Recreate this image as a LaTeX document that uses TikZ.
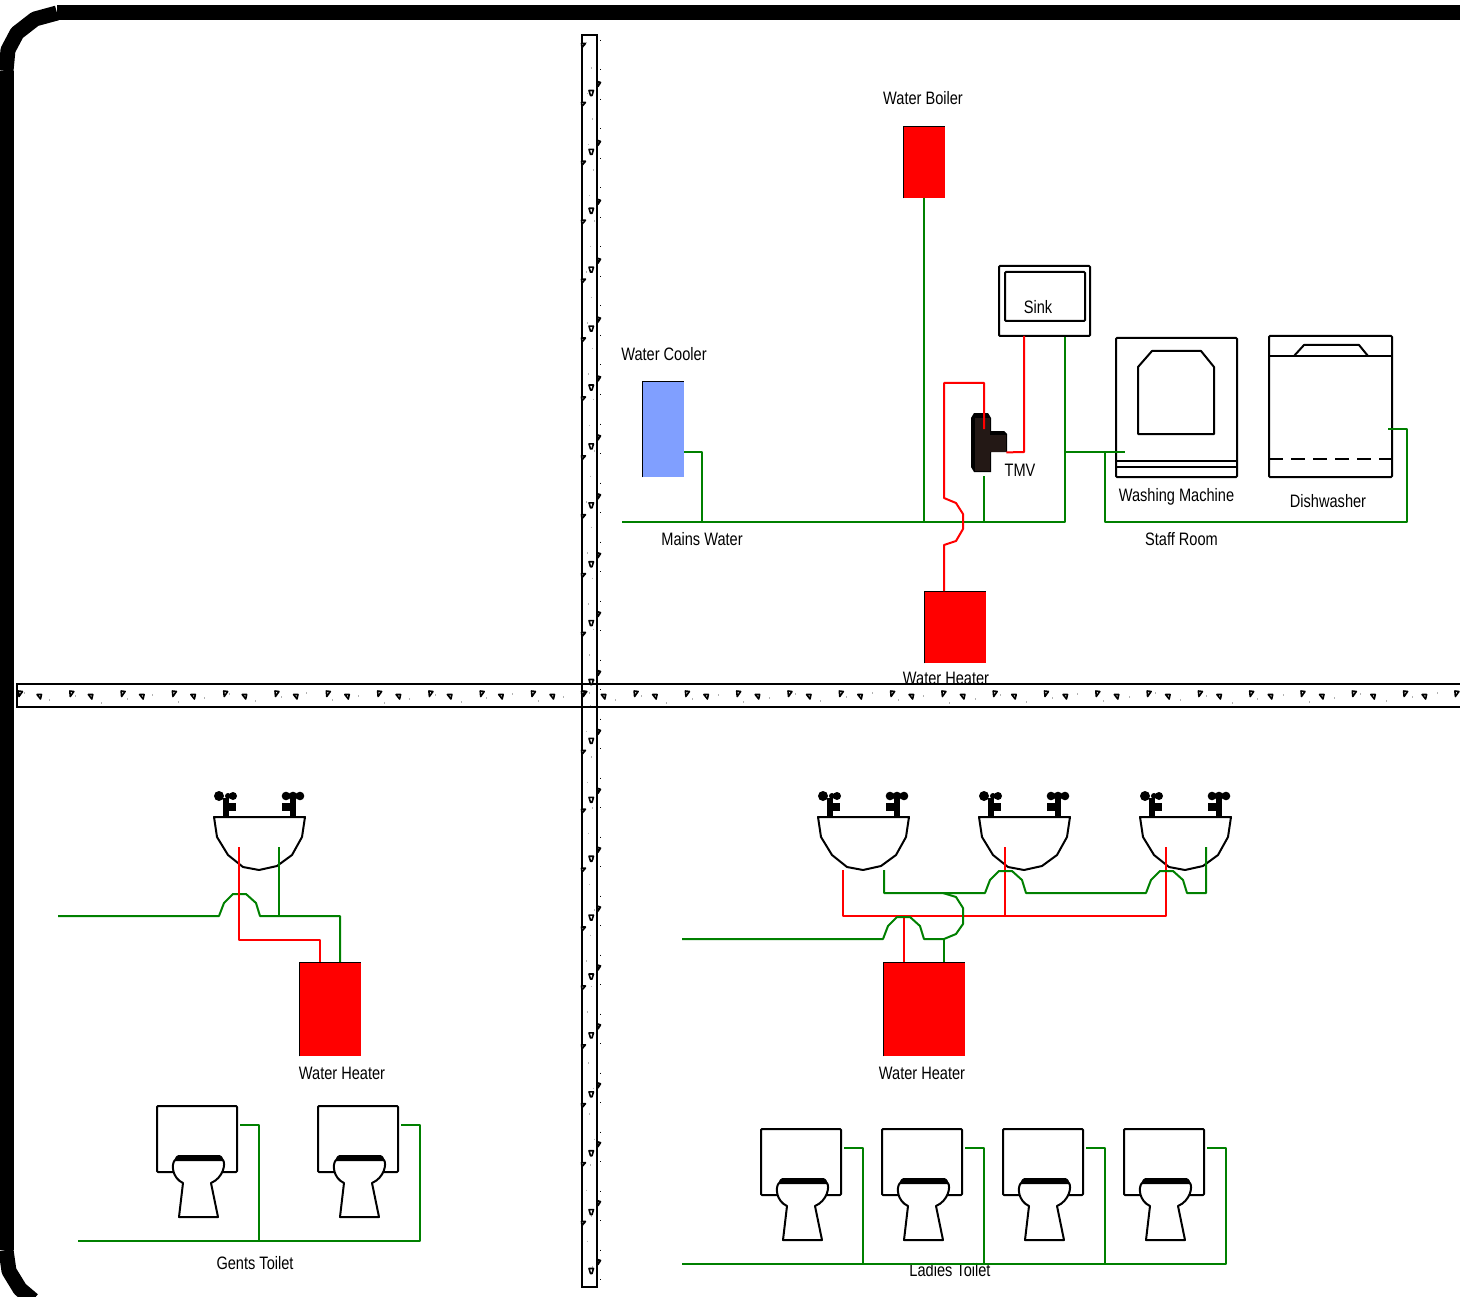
\documentclass[tikz,border=0pt]{standalone}
\usepackage{fontspec}
\setmainfont[FakeStretch=0.81]{Liberation Sans}
\usetikzlibrary{calc}

\definecolor{pipeGreen}{HTML}{008000}
\definecolor{pipeRed}{HTML}{FF0000}
\definecolor{coolerBlue}{HTML}{809FFF}
\definecolor{tmvDark}{HTML}{231815}

% one pipe hop over a crossing pipe
\newcommand{\pipehop}{-- ++(5,-13) -- ++(9,-9) -- ++(13,0) -- ++(10,9) -- ++(4,13)}

\begin{document}
\begin{tikzpicture}[
    x=1pt, y=-1pt,
    label/.style={font=\fontsize{18}{20}\selectfont, inner sep=0pt},
    cold/.style={draw=pipeGreen, line width=2pt, line join=round},
    hot/.style={draw=pipeRed, line width=2pt, line join=round},
    frameline/.style={line width=15pt, line join=round},
    wall/.style={draw=black, line width=2pt},
    speck/.style={draw=black!30, line width=0.6pt},
    wallmark/.style={fill=white, draw=black, line width=1.6pt, line join=round},
    fixture/.style={draw=black, line width=2pt, line join=round},
    tank/.style={rectangle, anchor=north west, inner sep=0pt, fill=pipeRed},
    box/.style={rectangle, draw=black, line width=2pt, rounded corners=1pt, anchor=north west, inner sep=0pt},
    basin/.pic={
        \draw[fixture, fill=white] (0,0) -- (3,20) -- (14,38) -- (29,50) -- (45,53) -- (63,49) -- (78,38) -- (88,20) -- (91,0) -- cycle;
        % taps
        \fill (9,-19) rectangle (15,0);
        \fill (14,-14) rectangle (22,-6);
        \fill (5,-21) circle (5pt) (14,-21) circle (3pt) (19,-21) circle (4pt);
        \fill (76,-19) rectangle (82,0);
        \fill (68,-14) rectangle (76,-6);
        \fill (72,-21) circle (4.3pt) (79,-21) circle (4.3pt) (86,-21) circle (4.3pt);
    },
    wc/.pic={
        \draw[fixture, rounded corners=1pt] (0,0) rectangle (80,66);
        \draw[fixture, fill=white] (18,54) .. controls (14,58) and (15,72) .. (26,77) -- (22,111) -- (61,111) -- (54,77) .. controls (66,72) and (69,58) .. (66,54) -- cycle;
        \fill[rounded corners=1.5pt] (17,54) -- (20,49) -- (64,49) -- (67,54) -- cycle;
        \coordinate (-out) at (83,19);
    }
]
\useasboundingbox (0,0) rectangle (1460,1297);

% outer frame
\draw[frameline] (1460,13) -- (57,13);
\draw[frameline] (57,13) -- (35,19) -- (17,33) -- (8,50) -- (6,71);
\draw[frameline] (6,71) -- (6,1250);
\draw[frameline] (6,1250) -- (9,1271) -- (20,1289) -- (33,1300);

% specks in the walls
\foreach \k in {0,...,55}
    \draw[speck] (24+\k*25.7,{692+mod(\k*7,11)}) -- ++(0,1.5);
\foreach \k in {0,...,48}
    \draw[speck] ({586+mod(\k*5,9)},42+\k*25.5) -- ++(0,1.5);
\foreach \k in {0,...,42}
    \draw[black, line width=0.8pt] (600.5,40+\k*29.5) -- ++(0,1);
\foreach \k in {0,...,55}
    \draw[black, line width=0.8pt] (30+\k*25.7,683) -- ++(1,0);

% horizontal wall
\draw[wall] (17,684) rectangle (1470,707);
\foreach \k in {0,...,28} {
    \draw[wallmark] (18.5+\k*51.3,691) -- (22.5+\k*51.3,691.5) -- (19+\k*51.3,696.5) -- cycle;
    \draw[wallmark] (37+\k*51.3,694.5) -- (41.5+\k*51.3,694.5) -- (40.5+\k*51.3,699) -- cycle;
}

% vertical wall
\draw[wall] (582,35) rectangle (597,1287);
\foreach \k in {0,...,20} {
    \draw[wallmark] (589,{90.5+\k*58.9}) -- (593.5,{90.5+\k*58.9}) -- (592,{95.5+\k*58.9}) -- (590.5,{95.5+\k*58.9}) -- cycle;
    \draw[wallmark] (597.5,{81.5+\k*58.9}) -- (600.5,{82.5+\k*58.9}) -- (598,{86.5+\k*58.9}) -- cycle;
    \draw[wallmark] (581.5,{43.5+\k*58.9}) -- (585.5,{43.5+\k*58.9}) -- (582,{47.5+\k*58.9}) -- cycle;
}

% labels
\node[label] (lblBoiler) at (923,98) {Water Boiler};
\node[label] (lblCooler) at (664,354) {Water Cooler};
\node[label] (lblTmv) at (1020,470) {TMV};
\node[label] (lblWasher) at (1176.5,496.5) {Washing Machine};
\node[label] (lblDish) at (1328,501) {Dishwasher};
\node[label] (lblMains) at (702,539) {Mains Water};
\node[label] (lblStaff) at (1181.5,539) {Staff Room};
\node[label] (lblHeaterA) at (946,678) {Water Heater};
\node[label] (lblHeaterB) at (342,1073) {Water Heater};
\node[label] (lblHeaterC) at (922,1073) {Water Heater};
\node[label] (lblGents) at (255,1263) {Gents Toilet};
\node[label] (lblLadies) at (950,1270) {Ladies Toilet};

% tanks
\node[tank, minimum width=42pt, minimum height=71pt] (boiler) at (903,127) {};
\node[tank, fill=coolerBlue, minimum width=42pt, minimum height=95pt] (cooler) at (642,382) {};
\node[tank, minimum width=62pt, minimum height=72pt] (heaterStaff) at (924,591) {};
\node[tank, minimum width=62pt, minimum height=94pt] (heaterGents) at (299,962) {};
\node[tank, minimum width=82pt, minimum height=94pt] (heaterLadies) at (883,962) {};
\foreach \t in {boiler,cooler,heaterStaff,heaterGents,heaterLadies}
    \draw[black, line width=1pt] (\t.south west) |- (\t.north east);

% sink
\node[box, minimum width=91pt, minimum height=70pt] (sink) at (998,265) {};
\node[box, minimum width=80pt, minimum height=49pt] (sinkInner) at (1004,271) {};
\node[label] (lblSink) at (1038,307) {Sink};

% washing machine
\node[box, minimum width=121pt, minimum height=139pt] (washer) at (1115,337) {};
\draw[fixture] (1116,461) -- (1237,461);
\draw[fixture] (1116,467) -- (1237,467);
\draw[fixture] (1138,367) -- (1152,351) -- (1201,351) -- (1214,367) -- (1214,434) -- (1138,434) -- cycle;

% dishwasher
\node[box, minimum width=123pt, minimum height=141pt] (dishwasher) at (1268,335) {};
\draw[fixture] (1269,356) -- (1392,356);
\draw[fixture] (1294,356) -- (1304,345) -- (1359,345) -- (1368,356);
\draw[fixture, dash pattern=on 14pt off 8pt] (1269,459) -- (1392,459);

% TMV
\fill[black] (971,418) -- (974,413) -- (988,413) -- (991,418) -- (991,431) -- (1004,431) -- (1007,434) -- (1007,452) -- (991,452) -- (991,472) -- (974,472) -- (971,467) -- cycle;
\node[rectangle, fill=tmvDark, anchor=north west, inner sep=0pt, minimum width=15pt, minimum height=53pt] (tmv) at (975,418) {};
\node[rectangle, fill=tmvDark, anchor=north west, inner sep=0pt, minimum width=16pt, minimum height=17pt] (tmvArm) at (990,435) {};

% basins and toilets
\pic (basinG) at (214,817) {basin};
\pic (basinA) at (818,817) {basin};
\pic (basinB) at (979,817) {basin};
\pic (basinC) at (1140,817) {basin};
\pic (wcG1) at (157,1106) {wc};
\pic (wcG2) at (318,1106) {wc};
\pic (wcL1) at (761,1129) {wc};
\pic (wcL2) at (882,1129) {wc};
\pic (wcL3) at (1003,1129) {wc};
\pic (wcL4) at (1124,1129) {wc};

% junctions and free ends
\coordinate (mainsStart) at (622,522);
\coordinate (mainsEnd) at (1065,522);
\coordinate (coolerOut) at (684,452);
\coordinate (applFeed) at (1065,452);
\coordinate (washerIn) at (1125,452);
\coordinate (dishIn) at (1388,429);
\coordinate (gentsStart) at (58,916);
\coordinate (gentsWc) at (78,1241);
\coordinate (ladiesStart) at (682,939);
\coordinate (ladiesWc) at (682,1264);

% staff room cold
\draw[cold] (mainsStart) -- (mainsEnd) -- (mainsEnd |- sink.south);
\draw[cold] (coolerOut) -| (702,522);
\draw[cold] (boiler.south) -- (boiler.south |- mainsStart);
\draw[cold] (984,476) -- (984,522);
\draw[cold] (applFeed) -- (washerIn);
\draw[cold] (1105,452) -- (1105,522) -- (1407,522) -- (1407,429) -- (dishIn);

% staff room hot
\draw[hot] (944,591) -- (944,545) -- (956,541) -- (963,529) -- (963,514) -- (956,503) -- (944,498) -- (944,383) -- (984,383) -- (984,429);
\draw[hot] (1024,336) -- (1024,452) -- (tmvArm.south east);

% gents pipes
\draw[cold] (gentsStart) -- (219,916) \pipehop -- (340,916) -- (340,962);
\draw[cold] (279,847) -- (279,916);
\draw[hot] (239,847) -- (239,940) -- (320,940) -- (320,962);
\draw[cold] (wcG1-out) -| (259,1241);
\draw[cold] (gentsWc) -- (420,1241) |- (wcG2-out);

% ladies pipes
\draw[hot] (843,870) -- (843,916) -- (1166,916) -- (1166,847);
\draw[hot] (1005,847) -- (1005,916);
\draw[hot] (904,916) -- (904,962);
\draw[cold] (ladiesStart) -- (883,939) \pipehop -- (944,939) -- (956,934) -- (963,924) -- (963,908) -- (956,897) -- (943,893);
\draw[cold] (944,939) -- (944,962);
\draw[cold] (884,870) -- (884,893) -- (985,893) \pipehop -- (1146,893) \pipehop -- (1206,893) -- (1206,847);
\draw[cold] (wcL1-out) -| (863,1264);
\draw[cold] (wcL2-out) -| (984,1264);
\draw[cold] (wcL3-out) -| (1105,1264);
\draw[cold] (ladiesWc) -- (1226,1264) |- (wcL4-out);

\end{tikzpicture}
\end{document}
